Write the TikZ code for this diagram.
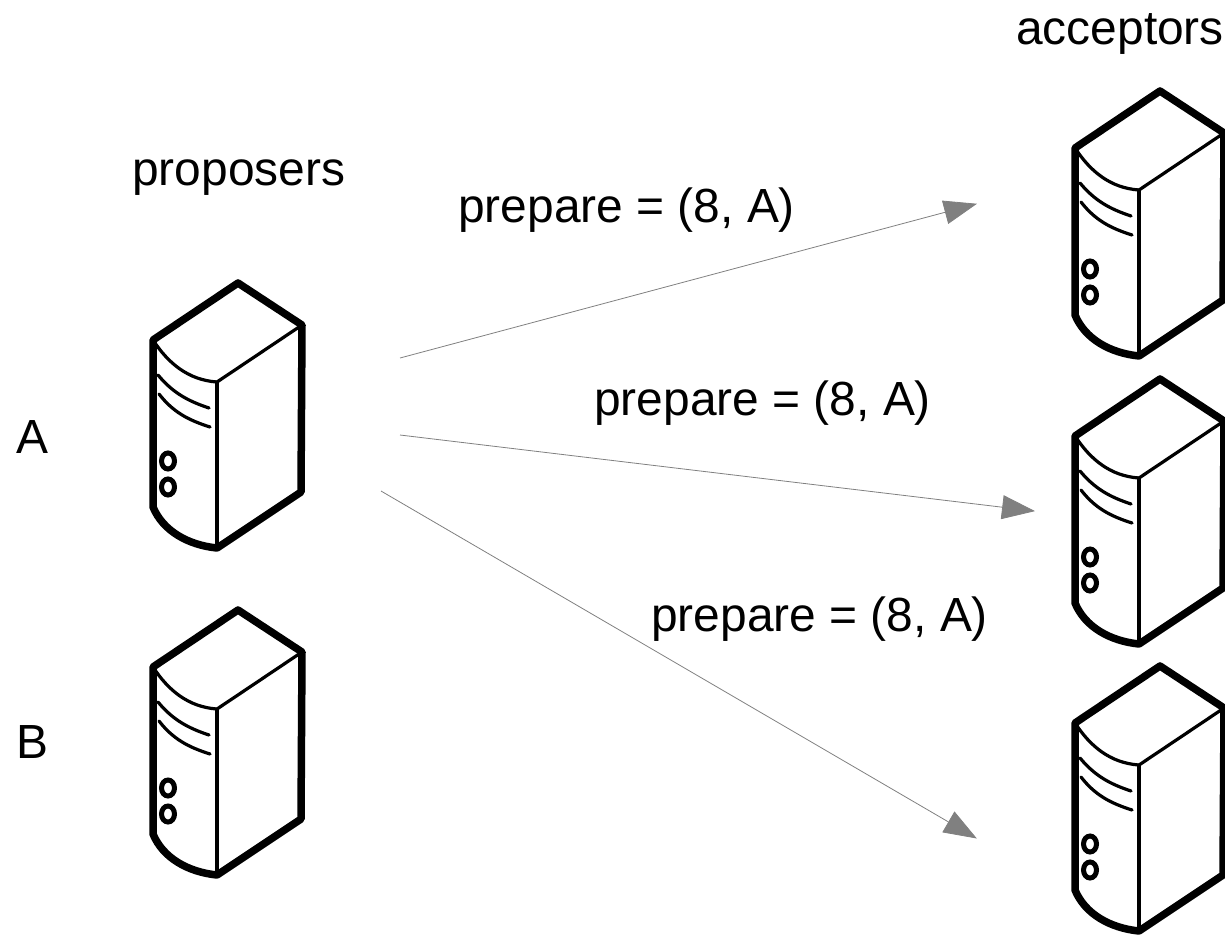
\documentclass[tikz,border=0pt]{standalone}
\usepackage{fontspec}
\setmainfont{Liberation Sans}
\usetikzlibrary{arrows.meta}
\tikzset{
  thickline/.style={line width=7.5pt,line join=round},
  thinline/.style={line width=3.2pt,line cap=round},
  flow/.style={draw=black!50,line width=0.8pt,-{Triangle[length=33pt,width=24pt,fill=black!50]},shorten >=-1pt},
  lbl/.style={anchor=base west,inner sep=0pt,font=\fontsize{47.9pt}{50pt}\selectfont},
  server/.pic={
    \draw[thinline] (-85,57) .. controls (-70,80) and (-50,97) .. (-21,99) -- (64,42);
    \draw[thinline] (-21,99) -- (-21,265);
    \draw[thinline] (-80,92) .. controls (-65,110) and (-50,118) .. (-29,125);
    \draw[thinline] (-79,111) .. controls (-65,129) and (-50,137) .. (-28,144);
    \draw[line width=5pt] (-70,178) ellipse [x radius=6.5,y radius=8];
    \draw[line width=5pt] (-70,204) ellipse [x radius=6.5,y radius=8];
    \draw[thickline] (0,0) -- (64,42) -- (63,209) -- (-21,265)
      .. controls (-50,262) and (-75,248) .. (-85,224) -- (-85,57) -- cycle;
  }
}
\begin{document}
\begin{tikzpicture}[x=1pt,y=-1pt]
\useasboundingbox (0,0) rectangle (1225,935);
\pic (srvA) at (238,283) {server};
\pic (srvB) at (238,610) {server};
\pic (acc1) at (1160,91) {server};
\pic (acc2) at (1160,379) {server};
\pic (acc3) at (1160,666) {server};
\node[lbl] (acceptors) at (1016,44) {acceptors};
\node[lbl] (proposers) at (132,185) {proposers};
\node[lbl] (labelA) at (16,453) {A};
\node[lbl] (labelB) at (16,758) {B};
\node[lbl] (prep1) at (458,222.5) {prepare = (8, A)};
\node[lbl] (prep2) at (594,415) {prepare = (8, A)};
\node[lbl] (prep3) at (651,631) {prepare = (8, A)};
\coordinate (a1) at (400,358);
\coordinate (a2) at (400,435);
\coordinate (a3) at (381,491);
\coordinate (t1) at (976,204);
\coordinate (t2) at (1034,511);
\coordinate (t3) at (976,838);
\draw[flow] (a1) -- (t1);
\draw[flow] (a2) -- (t2);
\draw[flow] (a3) -- (t3);
\end{tikzpicture}
\end{document}
